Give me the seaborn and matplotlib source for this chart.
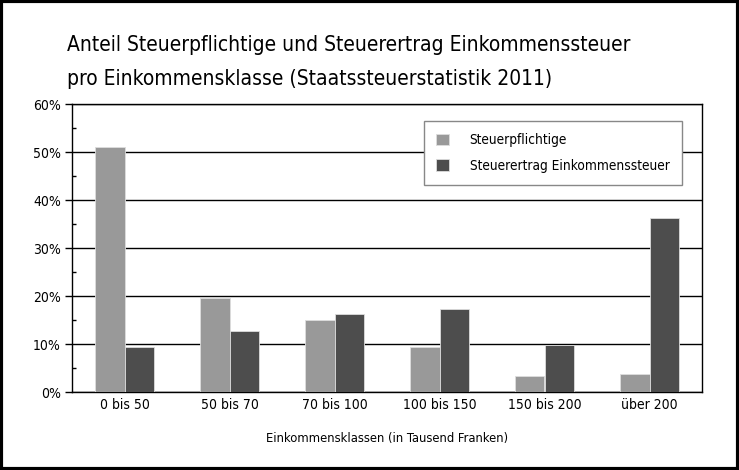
import numpy as np
import pandas as pd
import seaborn as sns
import matplotlib.pyplot as plt
from matplotlib.patches import Rectangle
from matplotlib.ticker import MultipleLocator, FixedLocator, PercentFormatter

klassen = ["0 bis 50", "50 bis 70", "70 bis 100", "100 bis 150", "150 bis 200", "über 200"]
steuerpflichtige = [51.1, 19.5, 14.9, 9.4, 3.3, 3.7]
steuerertrag = [9.3, 12.8, 16.3, 17.3, 9.8, 36.3]
serien = ["Steuerpflichtige", "Steuerertrag Einkommenssteuer"]
farben = ["#999999", "#4d4d4d"]

df = pd.DataFrame({
    "Klasse": klassen * 2,
    "Anteil": steuerpflichtige + steuerertrag,
    "Serie": [serien[0]] * len(klassen) + [serien[1]] * len(klassen),
})

sns.set_style("white")
# schmale Schrift wie im Original
plt.rcParams["font.family"] = ["DejaVu Sans"]
plt.rcParams["font.stretch"] = "condensed"
plt.rcParams["text.color"] = "black"
plt.rcParams["axes.labelcolor"] = "black"
plt.rcParams["xtick.color"] = "black"
plt.rcParams["ytick.color"] = "black"

fig = plt.figure(figsize=(7.39, 4.70), dpi=100)
ax = fig.add_axes([72 / 739, 1 - 392 / 470, (702 - 72) / 739, (392 - 104) / 470])

sns.barplot(data=df, x="Klasse", y="Anteil", hue="Serie", palette=farben,
            width=0.56, edgecolor="#dddddd", linewidth=0.6, ax=ax, zorder=3)

ax.set_xlim(-0.5, len(klassen) - 0.5)
ax.set_ylim(0, 60)
ax.yaxis.set_major_locator(MultipleLocator(10))
ax.yaxis.set_minor_locator(MultipleLocator(5))
ax.yaxis.set_major_formatter(PercentFormatter(decimals=0))
ax.grid(axis="y", which="major", color="black", linewidth=1)
ax.set_axisbelow(True)

# Striche zwischen den Kategorien
ax.xaxis.set_minor_locator(FixedLocator(np.arange(0.5, len(klassen), 1)))
ax.tick_params(axis="x", which="major", length=0, labelsize=10, pad=4)
ax.tick_params(axis="x", which="minor", length=5, width=1, color="black", direction="out")
ax.tick_params(axis="y", which="major", length=5, width=1, color="black", direction="out",
               labelsize=10, pad=3, left=True)
ax.tick_params(axis="y", which="minor", length=3, width=1, color="black", direction="in", left=True)

for side in ["left", "bottom", "right", "top"]:
    ax.spines[side].set_visible(True)
    ax.spines[side].set_color("black")
    ax.spines[side].set_linewidth(1)

ax.set_ylabel("")
ax.set_xlabel("Einkommensklassen (in Tausend Franken)", fontsize=9.3, labelpad=15)

leg = ax.legend(loc="upper right", bbox_to_anchor=(0.968, 0.941), fontsize=9.8,
                frameon=True, fancybox=False, edgecolor="#888888", framealpha=1,
                handlelength=0.95, handleheight=0.95, handletextpad=1.5,
                borderpad=0.9, labelspacing=0.85, borderaxespad=0)
leg.get_frame().set_linewidth(1)

fig.text(67 / 739, 1 - 85 / 470,
         "Anteil Steuerpflichtige und Steuerertrag Einkommenssteuer\n"
         "pro Einkommensklasse (Staatssteuerstatistik 2011)",
         fontsize=15, va="baseline", ha="left", linespacing=1.85)

fig.patches.append(Rectangle((0.002, 0.003), 0.996, 0.994, transform=fig.transFigure,
                             fill=False, edgecolor="black", linewidth=3))

fig.savefig("out.png", dpi=100)
